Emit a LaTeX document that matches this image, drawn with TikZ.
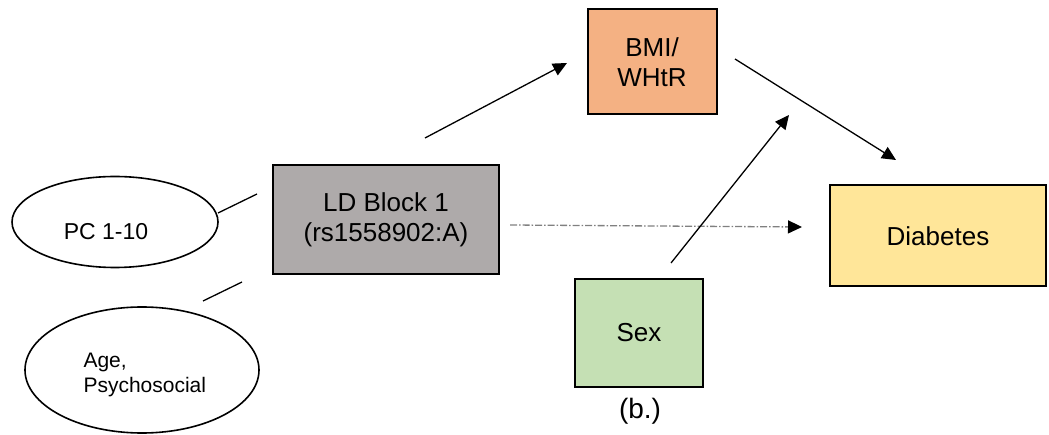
\documentclass[tikz,border=0pt]{standalone}
\usepackage{fontspec}
\setmainfont{Liberation Sans}
\usetikzlibrary{arrows.meta,shapes.geometric}
\definecolor{bmiC}{HTML}{F4B183}
\definecolor{ldC}{HTML}{AEAAAA}
\definecolor{diaC}{HTML}{FFE699}
\definecolor{sexC}{HTML}{C5E0B4}
\tikzset{
  box/.style={draw=black, line width=2pt, inner sep=0pt, align=center,
    font=\fontsize{26}{30}\selectfont},
  oval/.style={draw=black, line width=1.6pt, ellipse, inner sep=0pt},
  link/.style={line width=1.3pt, draw=black},
  arr/.style={link, -{Triangle[length=14pt,width=13pt]}},
  dasharr/.style={line width=1.3pt, draw=gray, dash pattern=on 7pt off 2pt on 1.5pt off 2pt,
    -{Triangle[length=14pt,width=13pt,color=black]}},
}
\begin{document}
\begin{tikzpicture}[x=1pt,y=-1pt]
\useasboundingbox (0,0) rectangle (1049,435);
% boxes
\node[box, fill=bmiC, minimum width=129pt, minimum height=105pt] (bmi) at (652,62) {BMI/\\WHtR};
\node[box, fill=ldC, minimum width=226pt, minimum height=109pt] (ld) at (386,220) {LD Block 1\\(rs1558902:A)};
\node[box, fill=diaC, minimum width=216pt, minimum height=101pt] (dia) at (938,236) {Diabetes};
\node[box, fill=sexC, minimum width=128pt, minimum height=108pt] (sex) at (639,333) {Sex};
% ellipses
\node[oval, minimum width=206pt, minimum height=91pt] (pc) at (115,222) {};
\node[font=\fontsize{23}{27}\selectfont] (pctext) at (106,232) {PC 1-10};
\node[oval, minimum width=234pt, minimum height=126pt] (age) at (142,370) {};
\node[font=\fontsize{21}{25}\selectfont, align=left, anchor=west] (agetext) at (80,375) {Age,\\Psychosocial};
% label
\node[font=\fontsize{28}{32}\selectfont] (lab) at (640,411) {(b.)};
% connector endpoints
\coordinate (pcA) at (218,213);
\coordinate (pcB) at (257,194);
\coordinate (agA) at (203,301);
\coordinate (agB) at (242,282);
\coordinate (ldOut) at (425,138);
\coordinate (bmiIn) at (567,63);
\coordinate (bmiOut) at (735,59);
\coordinate (diaIn) at (896,160);
\coordinate (sexOut) at (671,263);
\coordinate (bmiIn2) at (789,115);
\coordinate (ldOut2) at (510,225);
\coordinate (diaIn2) at (802,227);
% connectors
\draw[link] (pcA) -- (pcB);
\draw[link] (agA) -- (agB);
\draw[arr] (ldOut) -- (bmiIn);
\draw[arr] (bmiOut) -- (diaIn);
\draw[dasharr] (ldOut2) -- (diaIn2);
\draw[arr] (sexOut) -- (bmiIn2);
\end{tikzpicture}
\end{document}
